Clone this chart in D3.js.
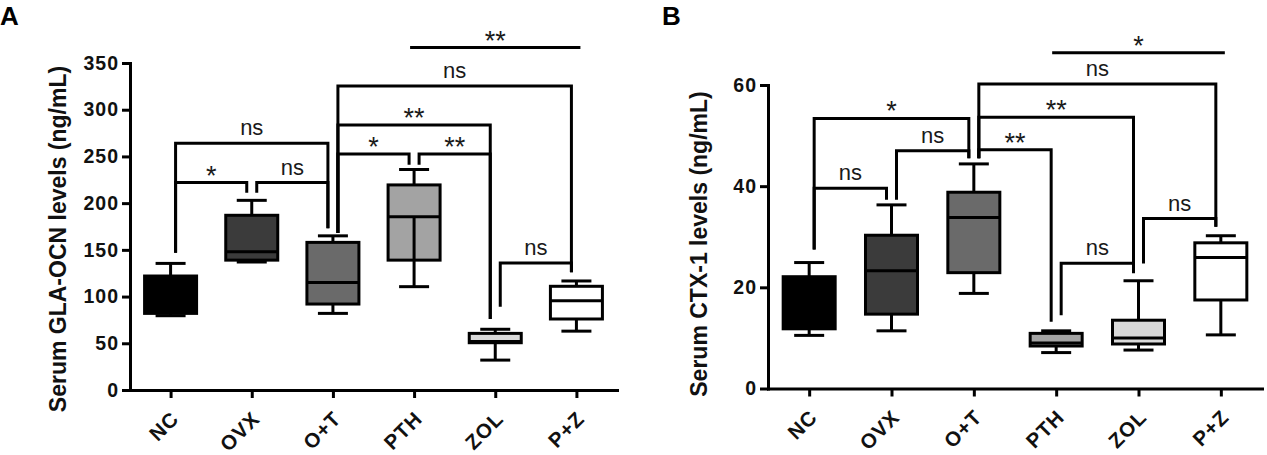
<!DOCTYPE html>
<html><head><meta charset="utf-8">
<script src="https://cdn.jsdelivr.net/npm/d3@7"></script>
<style>
body{margin:0;background:#fff;}
svg{display:block;font-family:"Liberation Sans",Arial,Helvetica,sans-serif;}
</style></head><body>
<svg id="chart" width="1267" height="455"></svg>
<script>
// ---------- DATA ----------
const categories = ["NC", "OVX", "O+T", "PTH", "ZOL", "P+Z"];

// Panel A: Serum GLA-OCN levels (ng/mL)
const ocnMin    = [79.5, 137, 82, 110.6, 32, 63];
const ocnQ1     = [82, 139, 92, 139, 50.6, 76];
const ocnMedian = [88, 148, 115, 185.5, 51.8, 95.6];
const ocnQ3     = [122, 187, 158, 219.5, 60.6, 111];
const ocnMax    = [135.5, 203, 165, 236, 65, 116.7];
const ocnTicks  = [0, 50, 100, 150, 200, 250, 300, 350];
const ocnBrackets = [
  {from: "NC",  to: "OVX", y: 222,   label: "*",  legFrom: 147, legTo: 211},
  {from: "OVX", to: "O+T", y: 222,   label: "ns", legFrom: 211, legTo: 173},
  {from: "NC",  to: "O+T", y: 264,   label: "ns", legFrom: 147, legTo: 173},
  {from: "O+T", to: "PTH", y: 252.6, label: "*",  legFrom: 168, legTo: 241},
  {from: "PTH", to: "ZOL", y: 252.6, label: "**", legFrom: 241, legTo: 76},
  {from: "O+T", to: "ZOL", y: 283.7, label: "**", legFrom: 168, legTo: 76},
  {from: "O+T", to: "P+Z", y: 325.5, label: "ns", legFrom: 168, legTo: 126},
  {from: "ZOL", to: "P+Z", y: 136,   label: "ns", legFrom: 89,  legTo: 126},
  {from: "PTH", to: "P+Z", y: 366.5, label: "**", legFrom: null, legTo: null}
];

// Panel B: Serum CTX-1 levels (ng/mL)
const ctxMin    = [10.5, 11.4, 18.8, 7.1, 7.6, 10.6];
const ctxQ1     = [11.8, 14.7, 22.9, 8.4, 8.8, 17.5];
const ctxMedian = [16, 23.3, 33.8, 9.0, 10.0, 25.9];
const ctxQ3     = [22.1, 30.3, 38.8, 10.9, 13.5, 28.8];
const ctxMax    = [24.9, 36.3, 44.4, 11.4, 21.3, 30.2];
const ctxTicks  = [0, 20, 40, 60];
const ctxBrackets = [
  {from: "NC",  to: "OVX", y: 39.6, label: "ns", legFrom: 27.5, legTo: 37.3},
  {from: "OVX", to: "O+T", y: 47,   label: "ns", legFrom: 37.3, legTo: 45.5},
  {from: "NC",  to: "O+T", y: 53.4, label: "*",  legFrom: 27.5, legTo: 45.5},
  {from: "O+T", to: "PTH", y: 47.2, label: "**", legFrom: 45.5, legTo: 13.2},
  {from: "O+T", to: "ZOL", y: 53.6, label: "**", legFrom: 45.5, legTo: 23.1},
  {from: "O+T", to: "P+Z", y: 60.2, label: "ns", legFrom: 45.5, legTo: 32},
  {from: "PTH", to: "ZOL", y: 24.75,label: "ns", legFrom: 14.5, legTo: 22.8},
  {from: "ZOL", to: "P+Z", y: 33.6, label: "ns", legFrom: 24.7, legTo: 32},
  {from: "PTH", to: "P+Z", y: 66.4, label: "*",  legFrom: null, legTo: null}
];

// ---------- STYLE / LAYOUT ----------
const boxFill = d3.scaleOrdinal(categories, ["#000000", "#3b3b3b", "#6a6a6a", "#a3a3a3", "#d9d9d9", "#ffffff"]);
const svg = d3.select("#chart");

const panels = [
  {letter: "A", letterX: 0, title: "Serum GLA-OCN levels (ng/mL)", titleX: 66, titleY: 239,
   left: 130, right: 617, bottom: 390, top: 63, max: 350,
   ticks: ocnTicks, min: ocnMin, q1: ocnQ1, med: ocnMedian, q3: ocnQ3, mx: ocnMax,
   brackets: ocnBrackets, throughBox: "PTH"},
  {letter: "B", letterX: 662, title: "Serum CTX-1 levels (ng/mL)", titleX: 707, titleY: 244,
   left: 768, right: 1262, bottom: 388.5, top: 85, max: 60,
   ticks: ctxTicks, min: ctxMin, q1: ctxQ1, med: ctxMedian, q3: ctxQ3, mx: ctxMax,
   brackets: ctxBrackets, throughBox: null}
];

const BOX_W = 52, CAP_W = 30, SW = 3;

panels.forEach(p => {
  const x = d3.scalePoint(categories, [p.left, p.right]).padding(0.5);
  const y = d3.scaleLinear([0, p.max], [p.bottom, p.top]);
  const g = svg.append("g");

  // panel letter
  svg.append("text").attr("x", p.letterX).attr("y", 25)
    .attr("font-size", 26).attr("font-weight", "bold").text(p.letter);

  // y title
  svg.append("text")
    .attr("transform", `translate(${p.titleX},${p.titleY}) rotate(-90)`)
    .attr("text-anchor", "middle").attr("font-size", 23).attr("font-weight", "bold")
    .attr("fill", "#111").text(p.title);

  // boxes
  const rows = categories.map((c, i) => ({c, min: p.min[i], q1: p.q1[i], med: p.med[i], q3: p.q3[i], max: p.mx[i]}));
  const bg = g.append("g").attr("stroke", "#000").attr("stroke-width", SW);
  rows.forEach(r => {
    const cx = x(r.c);
    bg.append("line").attr("x1", cx).attr("x2", cx).attr("y1", y(r.q3)).attr("y2", y(r.max));
    bg.append("line").attr("x1", cx).attr("x2", cx).attr("y1", y(r.q1)).attr("y2", y(r.min));
    bg.append("line").attr("x1", cx - CAP_W / 2).attr("x2", cx + CAP_W / 2).attr("y1", y(r.max)).attr("y2", y(r.max));
    bg.append("line").attr("x1", cx - CAP_W / 2).attr("x2", cx + CAP_W / 2).attr("y1", y(r.min)).attr("y2", y(r.min));
    bg.append("rect").attr("x", cx - BOX_W / 2).attr("width", BOX_W)
      .attr("y", y(r.q3)).attr("height", y(r.q1) - y(r.q3)).attr("fill", boxFill(r.c));
    bg.append("line").attr("x1", cx - BOX_W / 2).attr("x2", cx + BOX_W / 2).attr("y1", y(r.med)).attr("y2", y(r.med));
    if (p.throughBox === r.c) {
      bg.append("line").attr("x1", cx).attr("x2", cx).attr("y1", y(r.med)).attr("y2", y(r.q1));
    }
  });

  // brackets
  const brg = g.append("g");
  p.brackets.forEach(b => {
    let lx, rx, d;
    if (b.legFrom === null) {
      lx = x(b.from) - 4; rx = x(b.to) + 4;
      d = `M${lx},${y(b.y)}H${rx}`;
    } else {
      lx = x(b.from) + 5; rx = x(b.to) - 5;
      d = `M${lx},${y(b.legFrom)}V${y(b.y)}H${rx}V${y(b.legTo)}`;
    }
    brg.append("path").attr("d", d).attr("fill", "none").attr("stroke", "#000")
      .attr("stroke-width", SW).attr("stroke-linejoin", "miter");
    const isStar = b.label.indexOf("*") >= 0;
    brg.append("text").attr("x", (lx + rx) / 2)
      .attr("y", y(b.y) + (isStar ? 2 : -8))
      .attr("text-anchor", "middle")
      .attr("font-size", isStar ? 27 : 22)
      .attr("fill", "#1a1a1a")
      .text(b.label);
  });

  // axes
  const ya = g.append("g").attr("transform", `translate(${p.left},0)`)
    .call(d3.axisLeft(y).tickValues(p.ticks).tickSize(8).tickSizeOuter(0).tickPadding(3).tickFormat(d3.format("d")));
  const xa = g.append("g").attr("transform", `translate(0,${p.bottom})`)
    .call(d3.axisBottom(x).tickSize(8).tickSizeOuter(0).tickPadding(3));
  [ya, xa].forEach(a => {
    a.attr("font-family", null).attr("font-size", null);
    a.select(".domain").attr("stroke", "#000").attr("stroke-width", SW).attr("stroke-linecap", "square");
    a.selectAll(".tick line").attr("stroke", "#000").attr("stroke-width", SW);
    a.selectAll(".tick text").attr("fill", "#111").attr("font-weight", "bold")
      .attr("font-size", 19.5).style("letter-spacing", "1px");
  });
  xa.selectAll(".tick text")
    .attr("y", null).attr("dy", null)
    .attr("font-size", 20.5)
    .attr("text-anchor", "end")
    .attr("transform", "translate(9,30) rotate(-45)");
});
</script>
</body></html>
